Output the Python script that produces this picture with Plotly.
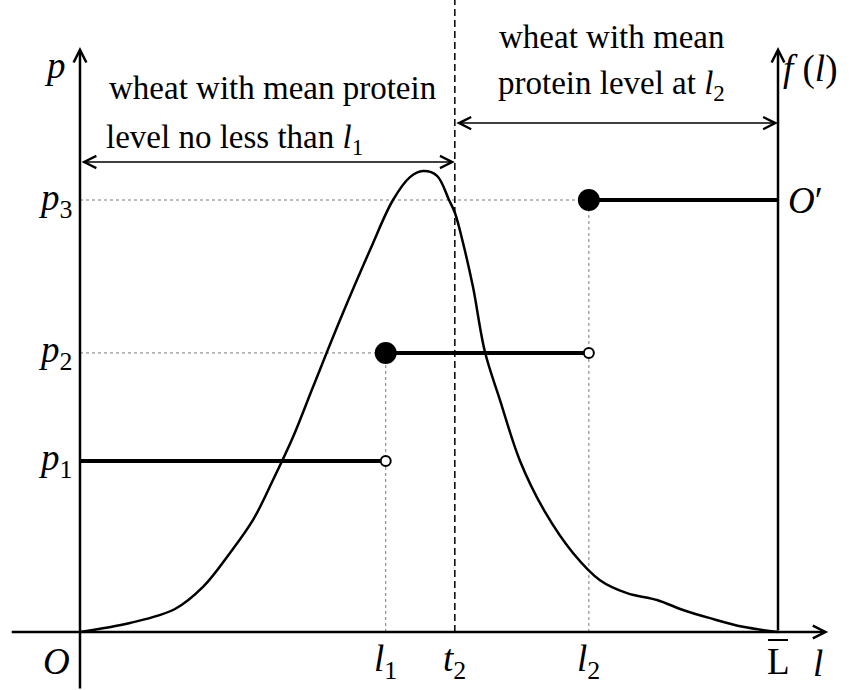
import plotly.graph_objects as go

# protein level axis: O = 0, L-bar = 100 ; price / density axis: p3 = 100
L_BREAKS = [0.0, 43.8, 72.9, 100.0]      # O, l1, l2, L-bar
T2 = 53.7
P_LEVELS = [39.6, 64.6, 100.0]           # p1, p2, p3
L_TICK_TEXT = ["<i>l</i><sub>1</sub>", "<i>t</i><sub>2</sub>", "<i>l</i><sub>2</sub>", "L"]
L_TICK_VALS = [43.8, 53.7, 72.9, 100.0]
P_TICK_TEXT = ["<i>p</i><sub>1</sub>", "<i>p</i><sub>2</sub>", "<i>p</i><sub>3</sub>"]

# density of protein level
CURVE_L = [0, 7.16, 13.61, 17.62, 21.49, 24.79, 27.65, 30.52, 33.38, 37.25, 41.55, 44.84,
           47.28, 49.14, 51.15, 52.87, 53.72, 54.87, 56.30, 58.02, 60.17, 63.04, 66.62,
           70.63, 74.50, 78.37, 82.66, 86.39, 90.26, 94.99, 100]
CURVE_F = [0, 2.08, 5.32, 10.42, 18.29, 25.93, 35.19, 45.14, 56.71, 72.22, 88.43, 100.0,
           105.3, 106.7, 105.6, 100.0, 97.0, 90.1, 79.9, 64.8, 53.7, 39.6, 27.8,
           18.3, 12.0, 9.0, 7.4, 5.1, 3.2, 1.2, 0]

X_RANGE = [-11.46, 111.46]
Y_RANGE = [-13.43, 146.3]
AXIS_TOP = 135.4
X_AXIS_END = 107.2

SERIF = "Liberation Serif, Times New Roman, serif"
GUIDE = dict(color="#7a7a7a", width=1, dash="dot")

fig = go.Figure()

p1, p2, p3 = P_LEVELS
l0, l1, l2, lbar = L_BREAKS

# dotted guide lines
fig.add_trace(go.Scatter(x=[l0, l2], y=[p3, p3], mode="lines", line=GUIDE))
fig.add_trace(go.Scatter(x=[l0, l1], y=[p2, p2], mode="lines", line=GUIDE))
fig.add_trace(go.Scatter(x=[l1, l1], y=[0, p2], mode="lines", line=GUIDE))
fig.add_trace(go.Scatter(x=[l2, l2], y=[0, p3], mode="lines", line=GUIDE))

# dashed t2 line
fig.add_trace(go.Scatter(x=[T2, T2], y=[0, Y_RANGE[1]], mode="lines",
                         line=dict(color="black", width=1.5, dash="7px,4px")))

# density curve
fig.add_trace(go.Scatter(x=CURVE_L, y=CURVE_F, mode="lines",
                         line=dict(color="black", width=2.5, shape="spline", smoothing=1.0)))

# step function f(l)
for i, p in enumerate(P_LEVELS):
    fig.add_trace(go.Scatter(x=[L_BREAKS[i], L_BREAKS[i + 1]], y=[p, p], mode="lines",
                             line=dict(color="black", width=4)))
# jumps: filled dot where the new level starts, open dot where the old one ends
fig.add_trace(go.Scatter(x=L_BREAKS[1:3], y=P_LEVELS[1:3], mode="markers",
                         marker=dict(size=22, color="black")))
fig.add_trace(go.Scatter(x=L_BREAKS[1:3], y=P_LEVELS[0:2], mode="markers",
                         marker=dict(size=10, color="white", line=dict(color="black", width=2))))


def arrow(x0, y0, x1, y1, width=2.5, size=1.0, both=False):
    fig.add_annotation(x=x1, y=y1, ax=x0, ay=y0, xref="x", yref="y", axref="x", ayref="y",
                       text="", showarrow=True, arrowhead=5, arrowsize=size, arrowwidth=width,
                       arrowcolor="black", startarrowhead=5, startarrowsize=size,
                       arrowside="end+start" if both else "end")


# axes
arrow(-10.0, 0, X_AXIS_END, 0)
arrow(0, Y_RANGE[0], 0, AXIS_TOP)
arrow(lbar, 0, lbar, AXIS_TOP)
# region brackets
arrow(l0, 108.8, T2, 108.8, width=1.5, size=1.6, both=True)
arrow(T2, 117.8, lbar, 117.8, width=1.5, size=1.6, both=True)

MATH = dict(family=SERIF, size=37, color="black")
TEXT = dict(family=SERIF, size=33, color="black")


def label(x, y, text, font=MATH, xanchor="center", xshift=0, yshift=0):
    fig.add_annotation(x=x, y=y, xref="x", yref="y", text=text, showarrow=False, font=font,
                       xanchor=xanchor, yanchor="middle", xshift=xshift, yshift=yshift)


# tick-like labels
for v, t in zip(L_TICK_VALS, L_TICK_TEXT):
    label(v, 0, t, yshift=-30)
# bar over L
fig.add_shape(type="line", xref="x", yref="y", xsizemode="pixel", ysizemode="pixel",
              xanchor=lbar, yanchor=0, x0=-10, x1=10, y0=-8, y1=-8,
              line=dict(color="black", width=2))
for v, t in zip(P_LEVELS, P_TICK_TEXT):
    label(0, v, t, xanchor="right", xshift=-6)
label(0, 0, "<i>O</i>", xanchor="right", xshift=-8, yshift=-30)
label(X_AXIS_END, 0, "<i>l</i>", xshift=-10, yshift=-32)
label(0, AXIS_TOP, "<i>p</i>", xanchor="right", xshift=-12, yshift=-18)
label(lbar, AXIS_TOP, "<i>f</i> (<i>l</i>)", xanchor="left", xshift=3, yshift=-22)
label(lbar, p3, "<i>O</i>\u2032", xanchor="left", xshift=8)

# region descriptions
label(27.65, 125.9, "wheat with mean protein", font=TEXT)
label(22.1, 113.9, "level no less than <i>l</i><sub>1</sub>", font=TEXT)
label(76.2, 137.7, "wheat with mean", font=TEXT)
label(76.2, 126.6, "protein level at <i>l</i><sub>2</sub>", font=TEXT)

fig.update_layout(
    width=858, height=690,
    margin=dict(l=0, r=0, t=0, b=0),
    paper_bgcolor="white", plot_bgcolor="white",
    showlegend=False,
    xaxis=dict(range=X_RANGE, visible=False, fixedrange=True),
    yaxis=dict(range=Y_RANGE, visible=False, fixedrange=True),
)

fig.write_html("out.html", config={"displayModeBar": False},
               post_script="document.body.style.margin='0';document.body.style.overflow='hidden';")
